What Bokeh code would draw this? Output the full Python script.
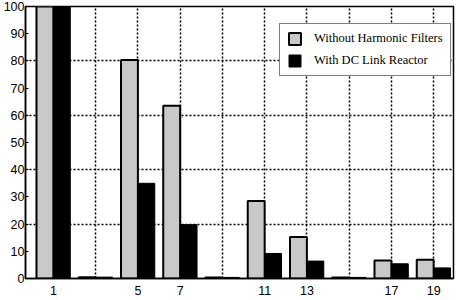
from bokeh.plotting import figure
from bokeh.models import ColumnDataSource, FixedTicker, Range1d, Legend, LegendItem
from bokeh.transform import dodge
from bokeh.embed import file_html
from bokeh.resources import INLINE

harmonics = [1, 3, 5, 7, 9, 11, 13, 15, 17, 19]
without_filters = [100, 0.5, 80.3, 63.5, 0.4, 28.5, 15.3, 0.4, 6.6, 6.9]
with_reactor = [100, 0.5, 35.0, 19.8, 0.4, 9.2, 6.4, 0.4, 5.4, 3.9]
tick_labels = [1, 5, 7, 11, 13, 17, 19]

src = ColumnDataSource(dict(x=harmonics, a=without_filters, b=with_reactor))

p = figure(width=459, height=300, output_backend="svg", toolbar_location=None,
           x_range=Range1d(-0.32, 19.94), y_range=Range1d(0, 100),
           min_border_left=0, min_border_right=6, min_border_top=6, min_border_bottom=22)
p.background_fill_color = "white"
p.border_fill_color = "white"
p.outline_line_color = "black"
p.outline_line_width = 1.5

r1 = p.vbar(x=dodge("x", -0.4), top="a", width=0.8, bottom=0, source=src,
            fill_color="#c9c9c9", line_color="black", line_width=2)
r2 = p.vbar(x=dodge("x", 0.4), top="b", width=0.8, bottom=0, source=src,
            fill_color="black", line_color="black", line_width=1)

# axes
p.xaxis.ticker = FixedTicker(ticks=tick_labels)
p.yaxis.ticker = FixedTicker(ticks=list(range(0, 101, 10)))
for ax in (p.xaxis[0], p.yaxis[0]):
    ax.axis_line_color = "black"
    ax.axis_line_width = 1.5
    ax.major_tick_in = 3
    ax.major_tick_out = 0
    ax.major_tick_line_color = "black"
    ax.minor_tick_line_color = None
    ax.major_label_text_font = "Liberation Sans"
    ax.major_label_text_font_size = "12.5px"
    ax.major_label_text_color = "black"
p.yaxis.major_label_standoff = 1
p.xaxis.major_label_standoff = 7

# grids
p.xgrid.ticker = FixedTicker(ticks=harmonics)
p.ygrid.ticker = FixedTicker(ticks=[20, 40, 60, 80])
for g in (p.xgrid[0], p.ygrid[0]):
    g.grid_line_color = "black"
    g.grid_line_width = 1.5
    g.grid_line_dash = "2 2"

legend = Legend(items=[LegendItem(label="Without Harmonic Filters", renderers=[r1]),
                       LegendItem(label="With DC Link Reactor", renderers=[r2])],
                location=(254, 202))
legend.label_text_font = "Liberation Serif"
legend.label_text_font_size = "12.5px"
legend.label_text_color = "black"
legend.glyph_width = 15
legend.glyph_height = 15
legend.label_height = 15
legend.label_standoff = 12
legend.spacing = 7
legend.padding = 7
legend.border_line_color = "black"
legend.border_line_width = 1.5
legend.background_fill_alpha = 1
p.add_layout(legend)

open("out.html", "w").write(file_html(p, INLINE))
